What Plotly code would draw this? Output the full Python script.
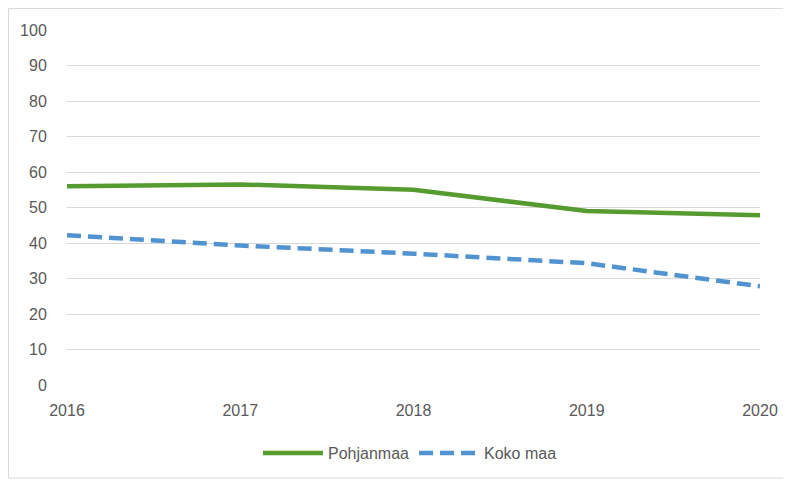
import plotly.graph_objects as go

years = [2016, 2017, 2018, 2019, 2020]
pohjanmaa = [56.0, 56.5, 55.0, 49.0, 47.8]
koko_maa = [42.2, 39.3, 37.0, 34.3, 27.8]
y_ticks = list(range(0, 101, 10))

fig = go.Figure()
fig.add_trace(go.Scatter(x=years, y=pohjanmaa, mode="lines", name="Pohjanmaa",
                         line=dict(color="#559b2f", width=4.5)))
fig.add_trace(go.Scatter(x=years, y=koko_maa, mode="lines", name="Koko maa",
                         line=dict(color="#5193d1", width=4.5, dash="14px,7px")))

# page body has an 8px margin, so the figure starts at page (8, 8)
OFF = 8
W, H = 791 - OFF, 482 - OFF
l, t = 67 - OFF, 30 - OFF
r = 791 - 760
b = 482 - 385
pw, ph = W - l - r, H - t - b

def px_x(page_x):
    return (page_x - OFF - l) / pw

def px_y(page_y):
    return 1 - (page_y - OFF - t) / ph

font_family = "Liberation Sans, Arial, sans-serif"
FS = 16

fig.update_layout(
    width=W, height=H,
    margin=dict(l=l, r=r, t=t, b=b, autoexpand=False),
    paper_bgcolor="white", plot_bgcolor="white",
    font=dict(family=font_family, size=FS, color="#595959"),
    xaxis=dict(range=[2016, 2020], tickvals=years, ticktext=[str(y) for y in years],
               showgrid=False, zeroline=False, showline=False, ticks="outside",
               ticklen=11, tickcolor="rgba(0,0,0,0)",
               tickfont=dict(size=FS, color="#595959")),
    yaxis=dict(range=[0, 100], tickvals=y_ticks, showgrid=True, gridcolor="#d9d9d9",
               gridwidth=1, zeroline=False, showline=False, ticks="outside",
               ticklen=16, tickcolor="rgba(0,0,0,0)",
               tickfont=dict(size=FS, color="#595959")),
    legend=dict(orientation="h", x=px_x(410), xanchor="center",
                y=px_y(453), yanchor="middle",
                font=dict(size=FS, color="#595959"), itemwidth=60),
    showlegend=True,
)
fig.add_shape(type="rect", xref="paper", yref="paper",
              x0=(0.5 - l) / pw, x1=(W - 1.5 - l) / pw,
              y0=px_y(478), y1=1 + (t - 0.5) / ph,
              line=dict(color="#d9d9d9", width=1), layer="below")

fig.write_html("out.html")
